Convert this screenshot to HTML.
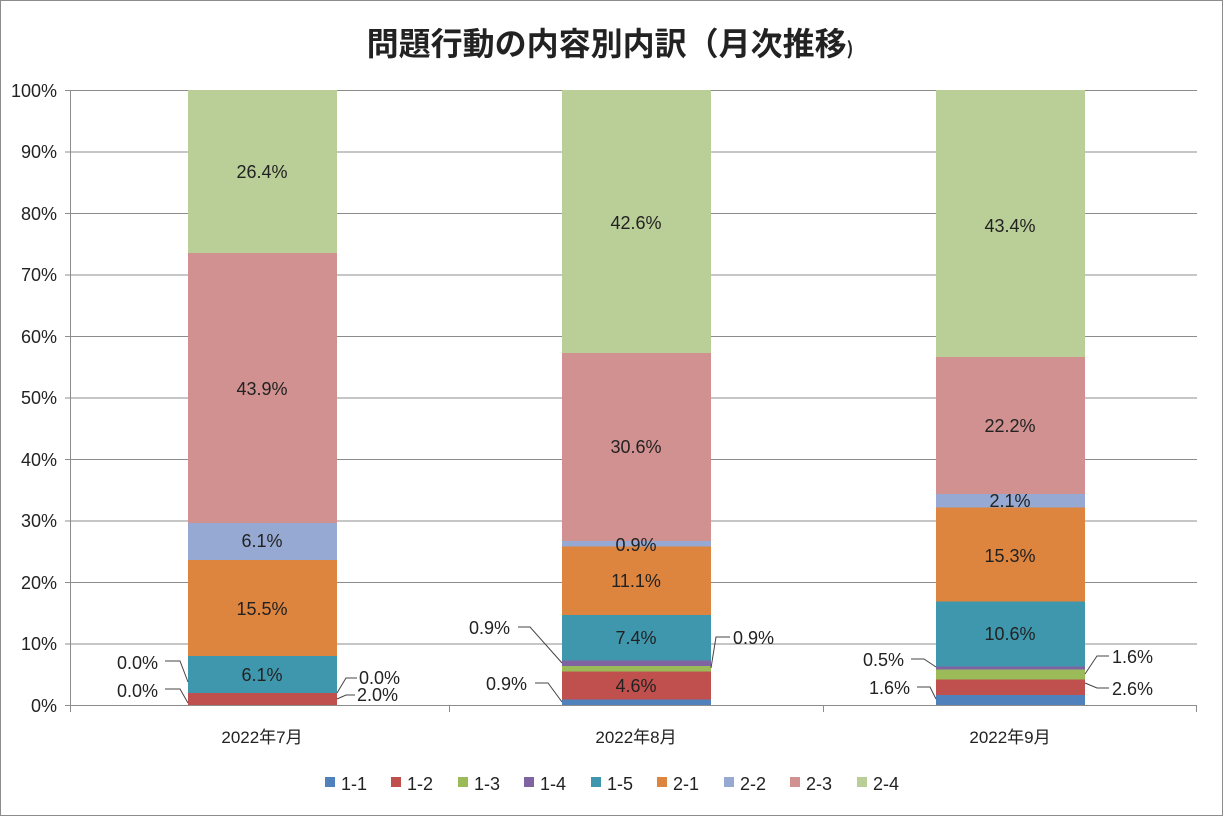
<!DOCTYPE html>
<html><head><meta charset="utf-8"><style>
body{margin:0;background:#fff}
svg text{font-family:"Liberation Sans","Noto Sans CJK JP",sans-serif;fill:#222}
</style></head><body>
<svg width="1223" height="816" xmlns="http://www.w3.org/2000/svg">
<rect x="0.5" y="0.5" width="1222" height="815" fill="#fff" stroke="#8c8c8c"/>
<text x="610" y="55" text-anchor="middle" font-size="32" font-weight="bold" style="font-family:'Noto Sans CJK JP',sans-serif">問題行動の内容別内訳（月次推移<tspan font-size="18">)</tspan></text>
<g stroke="#8c8c8c" stroke-width="1">
<line x1="70" y1="90.5" x2="1197" y2="90.5"/><line x1="70" y1="152" x2="1197" y2="152"/><line x1="70" y1="213.5" x2="1197" y2="213.5"/><line x1="70" y1="275" x2="1197" y2="275"/><line x1="70" y1="336.5" x2="1197" y2="336.5"/><line x1="70" y1="398" x2="1197" y2="398"/><line x1="70" y1="459.5" x2="1197" y2="459.5"/><line x1="70" y1="521" x2="1197" y2="521"/><line x1="70" y1="582.5" x2="1197" y2="582.5"/><line x1="70" y1="644" x2="1197" y2="644"/>
<line x1="70.5" y1="90" x2="70.5" y2="712"/><line x1="70" y1="705.5" x2="1197" y2="705.5"/>
<line x1="65" y1="90.5" x2="70" y2="90.5"/><line x1="65" y1="152" x2="70" y2="152"/><line x1="65" y1="213.5" x2="70" y2="213.5"/><line x1="65" y1="275" x2="70" y2="275"/><line x1="65" y1="336.5" x2="70" y2="336.5"/><line x1="65" y1="398" x2="70" y2="398"/><line x1="65" y1="459.5" x2="70" y2="459.5"/><line x1="65" y1="521" x2="70" y2="521"/><line x1="65" y1="582.5" x2="70" y2="582.5"/><line x1="65" y1="644" x2="70" y2="644"/><line x1="65" y1="705.5" x2="70" y2="705.5"/>
<line x1="449.5" y1="705" x2="449.5" y2="712"/><line x1="823.5" y1="705" x2="823.5" y2="712"/><line x1="1196.5" y1="705" x2="1196.5" y2="712"/>
</g>
<g font-size="18" text-anchor="end">
<text x="57" y="97">100%</text><text x="57" y="158">90%</text><text x="57" y="220">80%</text><text x="57" y="281">70%</text><text x="57" y="343">60%</text><text x="57" y="404">50%</text><text x="57" y="466">40%</text><text x="57" y="527">30%</text><text x="57" y="589">20%</text><text x="57" y="650">10%</text><text x="57" y="712">0%</text>
</g>
<g font-size="17" text-anchor="middle">
<text x="262" y="743">2022年7月</text><text x="636" y="743">2022年8月</text><text x="1010" y="743">2022年9月</text>
</g>
<rect x="188" y="693" width="149" height="12" fill="#C0504D"/>
<rect x="188" y="656" width="149" height="37" fill="#3F97AE"/>
<rect x="188" y="560" width="149" height="96" fill="#DD843F"/>
<rect x="188" y="523" width="149" height="37" fill="#96A9D2"/>
<rect x="188" y="253" width="149" height="270" fill="#D19190"/>
<rect x="188" y="90" width="149" height="163" fill="#BACE97"/>
<rect x="562" y="699.5" width="149" height="5.5" fill="#4F81BD"/>
<rect x="562" y="671.5" width="149" height="28" fill="#C0504D"/>
<rect x="562" y="666" width="149" height="5.5" fill="#9BBB59"/>
<rect x="562" y="660.5" width="149" height="5.5" fill="#8064A2"/>
<rect x="562" y="615" width="149" height="45.5" fill="#3F97AE"/>
<rect x="562" y="546.5" width="149" height="68.5" fill="#DD843F"/>
<rect x="562" y="541" width="149" height="5.5" fill="#96A9D2"/>
<rect x="562" y="353" width="149" height="188" fill="#D19190"/>
<rect x="562" y="90" width="149" height="263" fill="#BACE97"/>
<rect x="936" y="695" width="149" height="10" fill="#4F81BD"/>
<rect x="936" y="679.5" width="149" height="15.5" fill="#C0504D"/>
<rect x="936" y="669.5" width="149" height="10" fill="#9BBB59"/>
<rect x="936" y="666.5" width="149" height="3" fill="#8064A2"/>
<rect x="936" y="601.5" width="149" height="65" fill="#3F97AE"/>
<rect x="936" y="507.5" width="149" height="94" fill="#DD843F"/>
<rect x="936" y="494" width="149" height="13.5" fill="#96A9D2"/>
<rect x="936" y="357" width="149" height="137" fill="#D19190"/>
<rect x="936" y="90" width="149" height="267" fill="#BACE97"/>
<g font-size="18" text-anchor="middle">
<text x="262" y="178">26.4%</text><text x="262" y="395">43.9%</text><text x="262" y="547">6.1%</text><text x="262" y="615">15.5%</text><text x="262" y="681">6.1%</text>
<text x="636" y="229">42.6%</text><text x="636" y="453">30.6%</text><text x="636" y="551">0.9%</text><text x="636" y="587">11.1%</text><text x="636" y="644">7.4%</text><text x="636" y="692">4.6%</text>
<text x="1010" y="232">43.4%</text><text x="1010" y="432">22.2%</text><text x="1010" y="507">2.1%</text><text x="1010" y="562">15.3%</text><text x="1010" y="640">10.6%</text>
</g>
<g font-size="18">
<text x="117" y="669">0.0%</text><text x="117" y="697">0.0%</text>
<text x="359" y="684">0.0%</text><text x="357" y="701">2.0%</text>
<text x="469" y="634">0.9%</text><text x="486" y="690">0.9%</text><text x="733" y="644">0.9%</text>
<text x="863" y="666">0.5%</text><text x="869" y="694">1.6%</text><text x="1112" y="663">1.6%</text><text x="1112" y="695">2.6%</text>
</g>
<g stroke="#444" fill="none" stroke-width="1">
<polyline points="165,661 180,661 188,682"/><polyline points="165,689 180,689 188,703"/>
<polyline points="337,693 346,678 357,678"/><polyline points="337,699 346,695 355,695"/>
<polyline points="518,627 530,627 562,663"/><polyline points="535,683 548,683 562,702"/>
<polyline points="711,668 716,637 730,637"/>
<polyline points="911,659 924,659 936,667"/><polyline points="917,687 930,687 936,699"/>
<polyline points="1085,674 1097,656 1109,656"/><polyline points="1085,683 1097,688 1109,688"/>
</g>
<g font-size="18">
<rect x="325" y="777" width="10" height="10" fill="#4F81BD"/><text x="341" y="790">1-1</text>
<rect x="391" y="777" width="10" height="10" fill="#C0504D"/><text x="407" y="790">1-2</text>
<rect x="458" y="777" width="10" height="10" fill="#9BBB59"/><text x="474" y="790">1-3</text>
<rect x="524" y="777" width="10" height="10" fill="#8064A2"/><text x="540" y="790">1-4</text>
<rect x="591" y="777" width="10" height="10" fill="#3F97AE"/><text x="607" y="790">1-5</text>
<rect x="657" y="777" width="10" height="10" fill="#DD843F"/><text x="673" y="790">2-1</text>
<rect x="724" y="777" width="10" height="10" fill="#96A9D2"/><text x="740" y="790">2-2</text>
<rect x="790" y="777" width="10" height="10" fill="#D19190"/><text x="806" y="790">2-3</text>
<rect x="857" y="777" width="10" height="10" fill="#BACE97"/><text x="873" y="790">2-4</text>
</g>
</svg>
</body></html>
